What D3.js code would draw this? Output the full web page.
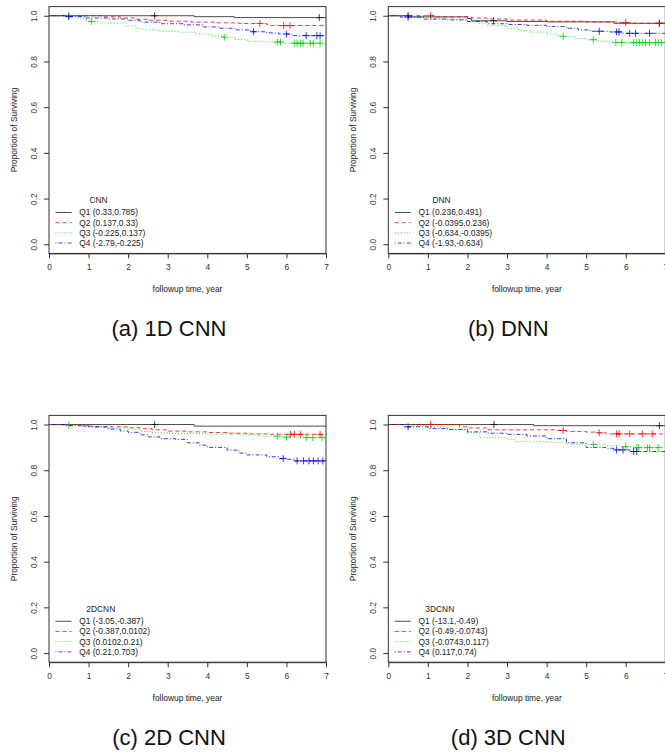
<!DOCTYPE html>
<html>
<head>
<meta charset="utf-8">
<script src="https://cdn.jsdelivr.net/npm/d3@7"></script>
<style>
  body { margin: 0; background: #fff; }
  svg { font-family: "Liberation Sans", Arial, sans-serif; }
</style>
</head>
<body>
<svg id="chart" width="665" height="755"></svg>
<script>
// Kaplan-Meier curves: [time, survival] steps
const groups = ["Q1", "Q2", "Q3", "Q4"]
const xTicks = [0, 1, 2, 3, 4, 5, 6, 7]
const yTicks = [0, 0.2, 0.4, 0.6, 0.8, 1.0]

const cnnTitle = "CNN"
const cnnLabels = ["Q1 (0.33,0.785)", "Q2 (0.137,0.33)", "Q3 (-0.225,0.137)", "Q4 (-2.79,-0.225)"]
const cnnSteps = [
  [[0,1],[3.67,0.996],[4.68,0.992]],
  [[0,1],[1.4,0.995],[1.8,0.99],[2.2,0.985],[2.5,0.98],[3.0,0.976],[3.6,0.972],[4.2,0.969],[4.8,0.966],[5.5,0.961],[5.6,0.957]],
  [[0,1],[0.7,0.99],[0.95,0.975],[1.3,0.968],[1.95,0.955],[2.2,0.945],[2.4,0.938],[2.8,0.932],[3.3,0.928],[3.7,0.92],[4.1,0.912],[4.4,0.906],[4.7,0.896],[5.0,0.888],[5.5,0.885],[5.9,0.88]],
  [[0,1],[0.4,0.996],[0.9,0.99],[1.5,0.986],[2.0,0.98],[2.3,0.972],[2.8,0.965],[3.4,0.96],[3.9,0.951],[4.3,0.945],[4.7,0.938],[5.1,0.93],[5.5,0.925],[5.8,0.92],[6.15,0.913]]
]
const cnnCensor = [
  [2.67, 6.83],
  [5.33, 5.93, 6.09],
  [0.5, 1.07, 4.43, 5.77, 5.85, 6.2, 6.27, 6.35, 6.42, 6.6, 6.68, 6.85],
  [0.5, 5.17, 6.0, 6.5, 6.77, 6.85]
]

const dnnTitle = "DNN"
const dnnLabels = ["Q1 (0.236,0.491)", "Q2 (-0.0395,0.236)", "Q3 (-0.634,-0.0395)", "Q4 (-1.93,-0.634)"]
const dnnSteps = [
  [[0,1],[0.6,0.995],[2.0,0.988],[2.1,0.978],[3.0,0.975],[4.0,0.973],[5.7,0.967]],
  [[0,1],[1.2,0.995],[2.1,0.99],[2.5,0.986],[3.0,0.981],[4.0,0.976],[5.0,0.973],[5.8,0.97],[6.2,0.967]],
  [[0,1],[0.6,0.995],[1.0,0.99],[1.6,0.985],[2.0,0.975],[2.3,0.965],[2.5,0.957],[3.0,0.945],[3.3,0.935],[3.6,0.928],[4.0,0.92],[4.3,0.91],[4.7,0.9],[5.0,0.895],[5.3,0.888],[5.7,0.883]],
  [[0,1],[0.3,0.994],[0.9,0.985],[1.5,0.982],[2.0,0.975],[2.5,0.965],[3.0,0.962],[3.5,0.958],[4.0,0.953],[4.5,0.945],[4.8,0.938],[5.1,0.932],[5.6,0.929],[5.9,0.923]]
]
const dnnCensor = [
  [0.5, 2.66, 6.85],
  [1.07, 6.0, 6.85],
  [4.42, 5.18, 5.75, 5.9, 6.2, 6.28, 6.35, 6.43, 6.5, 6.6, 6.75, 6.82, 6.9],
  [0.5, 5.33, 5.77, 5.83, 6.1, 6.25, 6.6]
]

const cnn2dTitle = "2DCNN"
const cnn2dLabels = ["Q1 (-3.05,-0.387)", "Q2 (-0.387,0.0102)", "Q3 (0.0102,0.21)", "Q4 (0.21,0.703)"]
const cnn2dSteps = [
  [[0,1],[3.67,0.993]],
  [[0,1],[0.8,0.993],[1.2,0.99],[2.0,0.986],[2.3,0.982],[2.6,0.977],[3.0,0.971],[3.5,0.968],[4.0,0.965],[4.5,0.962],[5.0,0.959],[5.6,0.957]],
  [[0,1],[0.3,0.997],[0.9,0.99],[1.5,0.985],[2.0,0.98],[2.3,0.97],[2.6,0.964],[3.0,0.961],[4.0,0.958],[4.8,0.955],[5.3,0.949],[5.8,0.945],[6.3,0.943]],
  [[0,1],[0.4,0.995],[1.0,0.99],[1.5,0.98],[1.8,0.972],[2.0,0.966],[2.3,0.955],[2.5,0.946],[2.8,0.938],[3.2,0.935],[3.5,0.92],[3.8,0.91],[4.0,0.9],[4.5,0.888],[4.8,0.875],[5.0,0.867],[5.5,0.859],[5.8,0.851],[6.0,0.848],[6.2,0.841]]
]
const cnn2dCensor = [
  [2.67],
  [6.1, 6.2, 6.35, 6.85],
  [0.5, 5.77, 6.0, 6.5, 6.67, 6.9],
  [5.92, 6.27, 6.43, 6.57, 6.68, 6.8, 6.92]
]

const cnn3dTitle = "3DCNN"
const cnn3dLabels = ["Q1 (-13.1,-0.49)", "Q2 (-0.49,-0.0743)", "Q3 (-0.0743,0.117)", "Q4 (0.117,0.74)"]
const cnn3dSteps = [
  [[0,1],[3.68,0.995]],
  [[0,1],[1.8,0.99],[2.0,0.985],[2.5,0.977],[4.2,0.974],[4.5,0.97],[5.0,0.967],[5.3,0.964],[5.5,0.959]],
  [[0,1],[0.6,0.995],[1.0,0.99],[1.5,0.98],[2.0,0.965],[2.3,0.943],[3.0,0.935],[3.2,0.925],[4.0,0.922],[4.5,0.915],[5.0,0.913],[5.5,0.908],[5.9,0.903],[6.2,0.899]],
  [[0,1],[0.4,0.99],[1.0,0.983],[1.5,0.978],[2.0,0.968],[2.5,0.962],[3.0,0.957],[3.5,0.95],[4.0,0.938],[4.5,0.92],[5.0,0.9],[5.5,0.896],[5.7,0.889],[6.1,0.882]]
]
const cnn3dCensor = [
  [2.67, 6.85],
  [1.07, 4.42, 5.33, 5.77, 5.83, 6.1, 6.42, 6.67],
  [5.18, 6.0, 6.28, 6.33, 6.55, 6.6, 6.82],
  [0.5, 5.77, 5.93, 6.2, 6.28]
]

const captions = ["(a) 1D CNN", "(b) DNN", "(c) 2D CNN", "(d) 3D CNN"]

const colors = ["#111111", "#ff0000", "#00cd00", "#0000ff"]
const dashes = [null, "4,3", "1,2", "1,2,4,2"]

const panels = [
  { title: cnnTitle, labels: cnnLabels, steps: cnnSteps, censor: cnnCensor, left: 49, top: 6.6 },
  { title: dnnTitle, labels: dnnLabels, steps: dnnSteps, censor: dnnCensor, left: 388.3, top: 6.6 },
  { title: cnn2dTitle, labels: cnn2dLabels, steps: cnn2dSteps, censor: cnn2dCensor, left: 49, top: 415.4 },
  { title: cnn3dTitle, labels: cnn3dLabels, steps: cnn3dSteps, censor: cnn3dCensor, left: 388.3, top: 415.4 }
]

const plotW = 277
const plotH = 246.8
const fs = 8.4

const svg = d3.select("#chart")

function survivalAt(steps, t) {
  let s = steps[0][1]
  steps.forEach(p => { if (p[0] <= t) s = p[1] })
  return s
}

function drawPanel(p, idx) {
  const x = d3.scaleLinear().domain([0, 7]).range([p.left, p.left + plotW])
  const y = d3.scaleLinear().domain([-0.04, 1.04]).range([p.top + plotH, p.top])

  const g = svg.append("g")

  const line = d3.line()
    .x(d => x(d[0]))
    .y(d => y(d[1]))
    .curve(d3.curveStepAfter)

  p.steps.forEach((steps, i) => {
    const pts = steps.concat([[7, steps[steps.length - 1][1]]])
    g.append("path")
      .attr("d", line(pts))
      .attr("fill", "none")
      .attr("stroke", colors[i])
      .attr("stroke-opacity", i == 0 ? 0.75 : 0.8)
      .attr("stroke-width", 1)
      .attr("stroke-dasharray", dashes[i])

    g.selectAll(null)
      .data(p.censor[i])
      .enter()
      .append("path")
      .attr("d", d => {
        const cx = x(d), cy = y(survivalAt(steps, d))
        return `M${cx - 3.5},${cy}H${cx + 3.5}M${cx},${cy - 3.5}V${cy + 3.5}`
      })
      .attr("stroke", colors[i])
      .attr("stroke-opacity", 0.8)
      .attr("stroke-width", 1)
  })

  // box
  g.append("rect")
    .attr("x", p.left).attr("y", p.top)
    .attr("width", plotW).attr("height", plotH)
    .attr("fill", "none").attr("stroke", "#333").attr("stroke-width", 1)

  const xAxis = g.append("g")
    .attr("transform", `translate(0,${p.top + plotH})`)
    .call(d3.axisBottom(x).tickValues(xTicks).tickFormat(d3.format("d")).tickSize(5).tickSizeOuter(0).tickPadding(6))
  xAxis.select(".domain").attr("stroke", "#333")
  xAxis.selectAll("line").attr("stroke", "#333")
  xAxis.selectAll("text").attr("font-size", fs).attr("fill", "#333").attr("font-family", null)

  const yAxis = g.append("g")
    .attr("transform", `translate(${p.left},0)`)
    .call(d3.axisLeft(y).tickValues(yTicks).tickFormat(d3.format(".1f")).tickSize(5).tickSizeOuter(0))
  yAxis.select(".domain").remove()
  yAxis.selectAll("line").attr("stroke", "#333")
  yAxis.selectAll("text")
    .attr("font-size", fs).attr("fill", "#333").attr("font-family", null)
    .attr("x", null).attr("dy", null)
    .attr("text-anchor", "middle")
    .attr("transform", "translate(-12.5,0) rotate(-90)")

  g.append("text")
    .attr("x", p.left + plotW / 2).attr("y", p.top + plotH + 38.5)
    .attr("text-anchor", "middle").attr("font-size", fs).attr("fill", "#222")
    .text("followup time, year")

  g.append("text")
    .attr("transform", `translate(${p.left - 32},${p.top + plotH / 2}) rotate(-90)`)
    .attr("text-anchor", "middle").attr("font-size", fs).attr("fill", "#222")
    .text("Proportion of Surviving")

  // legend
  const lineX0 = p.left + 6.5, lineX1 = p.left + 22.5, textX = p.left + 30.3
  const y0 = y(0)
  const rowY = groups.map((q, i) => y0 - 1.2 - (3 - i) * 10.2)
  const leg = g.append("g")
  let maxEnd = 0
  groups.forEach((q, i) => {
    leg.append("line")
      .attr("x1", lineX0).attr("x2", lineX1)
      .attr("y1", rowY[i]).attr("y2", rowY[i])
      .attr("stroke", colors[i]).attr("stroke-opacity", 0.75)
      .attr("stroke-dasharray", dashes[i])
    const t = leg.append("text")
      .attr("x", textX).attr("y", rowY[i] + 3)
      .attr("font-size", fs).attr("fill", "#222")
      .text(p.labels[i])
    maxEnd = Math.max(maxEnd, textX + t.node().getComputedTextLength())
  })
  leg.append("text")
    .attr("x", (lineX0 - 4 + maxEnd) / 2).attr("y", rowY[0] - 9.5)
    .attr("text-anchor", "middle").attr("font-size", fs).attr("fill", "#222")
    .text(p.title)

  svg.append("text")
    .attr("x", p.left + 120).attr("y", p.top + plotH + 83)
    .attr("text-anchor", "middle").attr("font-size", 22).attr("fill", "#111")
    .text(captions[idx])
}

panels.forEach(drawPanel)
</script>
</body>
</html>
